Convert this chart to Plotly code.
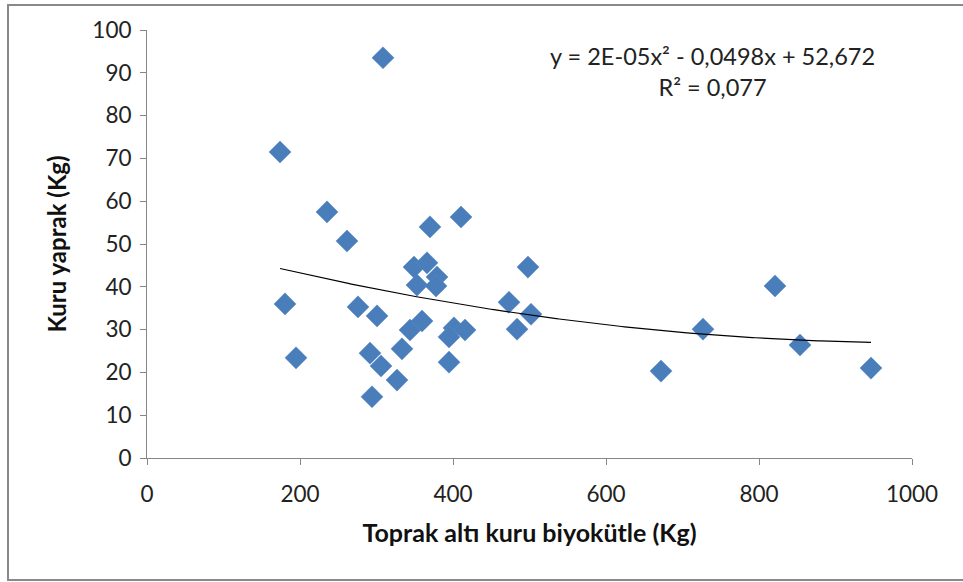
import numpy as np
import plotly.graph_objects as go

# Data
biomass = [308.5, 173.9, 235.3, 369.9, 410.5, 261.4, 349.0, 366.0, 379.1, 352.9,
           377.8, 498.0, 180.4, 275.8, 300.7, 473.2, 502.0, 483.7, 343.8, 359.5,
           401.3, 415.7, 394.8, 194.8, 291.5, 305.9, 333.3, 394.8, 326.8, 294.1,
           820.9, 726.8, 853.6, 671.9, 946.4]
leaf = [93.5, 71.5, 57.5, 54.0, 56.3, 50.7, 44.6, 45.6, 42.3, 40.4,
        40.2, 44.6, 36.0, 35.3, 33.2, 36.4, 33.6, 30.1, 29.9, 32.0,
        30.4, 29.9, 28.3, 23.4, 24.5, 21.5, 25.5, 22.4, 18.2, 14.3,
        40.2, 30.1, 26.4, 20.3, 21.0]
x_ticks = [0, 200, 400, 600, 800, 1000]
y_ticks = [0, 10, 20, 30, 40, 50, 60, 70, 80, 90, 100]
equation_text = "y = 2E-05x² - 0,0498x + 52,672<br>R² = 0,077"

# Polynomial (order 2) trend line fitted to the data
coef = np.polyfit(biomass, leaf, 2)
tx = np.linspace(min(biomass), max(biomass), 200)
ty = np.polyval(coef, tx)

FONT = "Lato"
AXIS_COL = "#868686"

fig = go.Figure()
fig.add_trace(go.Scatter(
    x=biomass, y=leaf, mode="markers",
    marker=dict(symbol="diamond", size=17, color="#4A7EBB",
                line=dict(width=0.5, color="#5B8BC6")),
    showlegend=False, hoverinfo="x+y"))
fig.add_trace(go.Scatter(
    x=tx, y=ty, mode="lines", line=dict(color="black", width=1.2),
    showlegend=False, hoverinfo="skip"))

fig.update_layout(
    width=963, height=582,
    margin=dict(l=147, r=51, t=30, b=124),
    paper_bgcolor="white", plot_bgcolor="white",
    font=dict(family=FONT, color="#222222"),
    xaxis=dict(range=[0, 1000], tickvals=x_ticks, showgrid=False, zeroline=False,
               showline=True, linecolor=AXIS_COL, linewidth=1,
               ticks="outside", ticklen=6, tickcolor=AXIS_COL,
               ticklabelstandoff=10,
               tickfont=dict(size=22.5, family=FONT, color="#222222"),
               title=dict(text="<b>Toprak altı kuru biyokütle (Kg)</b>",
                          font=dict(size=25, family=FONT, color="#111111"),
                          standoff=18)),
    yaxis=dict(range=[0, 100], tickvals=y_ticks, showgrid=False, zeroline=False,
               showline=True, linecolor=AXIS_COL, linewidth=1,
               ticks="outside", ticklen=6, tickcolor=AXIS_COL,
               ticklabelstandoff=4,
               tickfont=dict(size=22.5, family=FONT, color="#222222"),
               title=dict(text="<b>Kuru yaprak (Kg)</b>",
                          font=dict(size=24, family=FONT, color="#111111"),
                          standoff=18)),
    annotations=[dict(
        x=(712 - 147) / 765, y=(458 - 72) / 428, xref="paper", yref="paper",
        text=equation_text, showarrow=False, xanchor="center", yanchor="middle",
        align="center", font=dict(size=23.5, family=FONT, color="#222222"))],
    shapes=[dict(type="rect", xref="paper", yref="paper",
                 x0=(8 - 147) / 765, x1=(964 - 147) / 765,
                 y0=(458 - 580) / 428, y1=(458 - 5) / 428,
                 line=dict(color="#898989", width=2), fillcolor="rgba(0,0,0,0)",
                 layer="below")],
)

fig.write_html("out.html")
